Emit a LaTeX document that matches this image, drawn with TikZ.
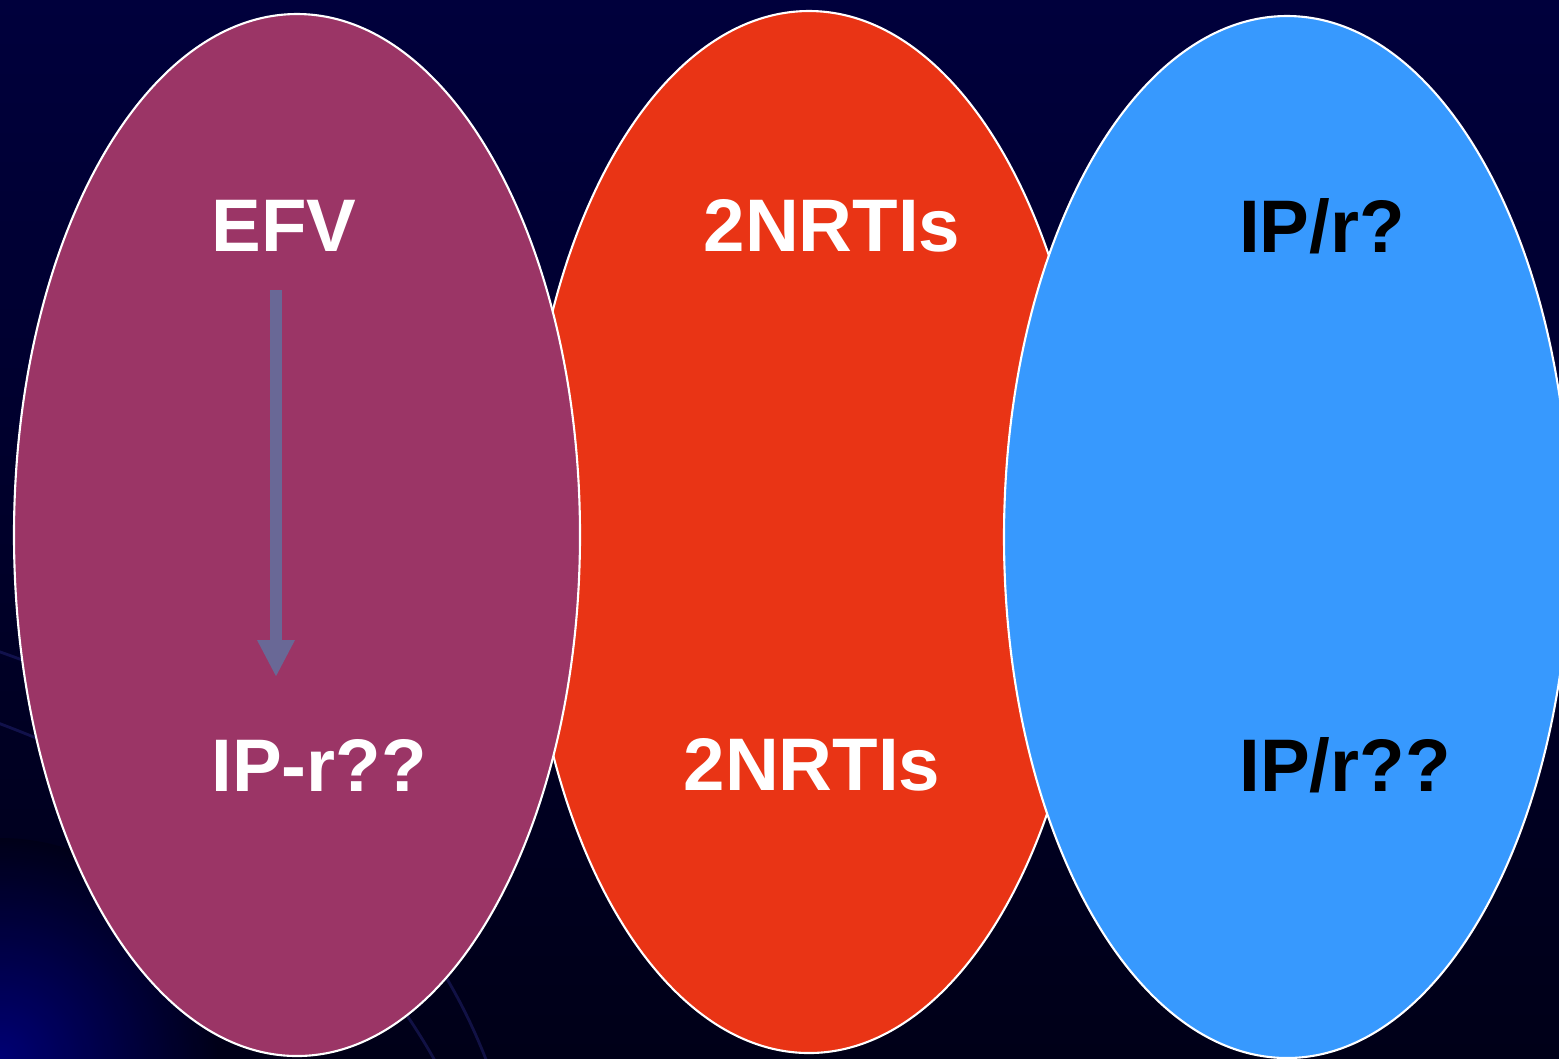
\documentclass[tikz,border=0pt]{standalone}
\usepackage{fontspec}
\setmainfont{Liberation Sans}
\usepackage{xcolor}
\usepackage{tikz}
\usetikzlibrary{arrows.meta,positioning,calc,shapes.geometric}
\definecolor{Night}{HTML}{00003C}
\definecolor{NightDeep}{HTML}{000018}
\definecolor{Glow}{HTML}{00007E}
\definecolor{Plum}{HTML}{9B3566}
\definecolor{Flame}{HTML}{E93415}
\definecolor{Sky}{HTML}{3799FE}
\definecolor{Slate}{HTML}{696896}
\tikzset{
  blob/.style={ellipse,draw=white,line width=0.6pt,minimum width=56.6mm,minimum height=104.2mm,inner sep=0pt},
  drug/.style={font=\fontsize{21.2}{25}\selectfont\bfseries,text=white,inner sep=0pt},
  drugdark/.style={drug,text=black},
  switcharrow/.style={-{Triangle[width=3.5mm,length=3.7mm]},line width=1.2mm,draw=Slate}
}

\begin{document}
\begin{tikzpicture}
  % backdrop
  \useasboundingbox (0,0) rectangle (15.59,-10.58);
  \shade[top color=Night,bottom color=NightDeep] (0,0) rectangle (15.59,-10.58);
  \begin{scope}
    \clip (0,0) rectangle (15.59,-10.58);
    \shade[inner color=Glow,outer color=NightDeep,opacity=0.9] (0,-10.58) circle (2.2);
    \draw[Glow!80!white,opacity=0.35,line width=0.8pt] (-1,-6.2) .. controls (2.5,-7.2) and (4.2,-8.8) .. (4.9,-10.7);
    \draw[Glow!80!white,opacity=0.35,line width=0.8pt] (-1,-6.9) .. controls (2,-7.8) and (3.6,-9.2) .. (4.4,-10.7);
  \end{scope}
  % the three regimens
  \node[blob,fill=Flame] (nrti) at (8.09,-5.32) {};
  \node[blob,fill=Plum] (efvblob) at (2.97,-5.35) {};
  \node[blob,fill=Sky] (piblob) at (12.87,-5.37) {};
  \node[drug] (efv) at (2.84,-2.26) {EFV};
  \node[drug] (nrtitop) at (8.32,-2.26) {2NRTIs};
  \node[drugdark] (pitop) at (13.22,-2.26) {IP/r?};
  \node[drug] (ipr) at (3.19,-7.65) {IP-r??};
  \node[drug] (nrtibot) at (8.12,-7.65) {2NRTIs};
  \node[drugdark] (pibot) at (13.45,-7.65) {IP/r??};
  % switch arrow
  \coordinate (swfrom) at (2.76,-2.90);
  \coordinate (swto) at (2.76,-6.77);
  \draw[switcharrow] (swfrom) -- (swto);
\end{tikzpicture}
\end{document}
